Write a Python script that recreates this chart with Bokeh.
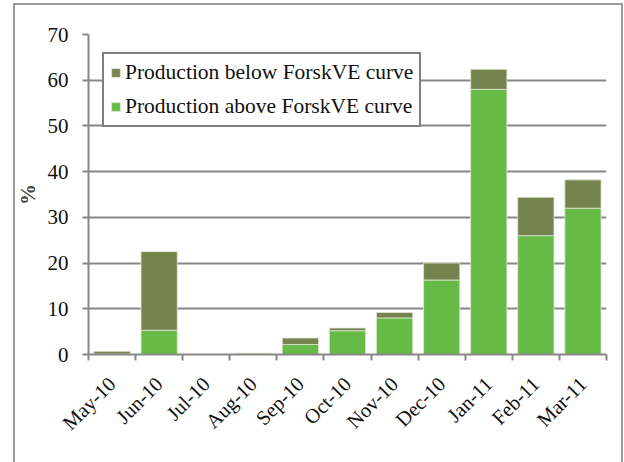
import numpy as np
from bokeh.plotting import figure
from bokeh.models import (Range1d, FixedTicker, Legend, LegendItem,
                          ColumnDataSource, InlineStyleSheet)
from bokeh.embed import file_html
from bokeh.resources import INLINE

months = ["May-10", "Jun-10", "Jul-10", "Aug-10", "Sep-10", "Oct-10",
          "Nov-10", "Dec-10", "Jan-11", "Feb-11", "Mar-11"]
above = [0.1, 5.3, 0.0, 0.2, 2.2, 5.2, 8.0, 16.3, 58.0, 26.0, 32.0]
below = [0.6, 17.2, 0.0, 0.1, 1.4, 0.6, 1.2, 3.7, 4.4, 8.4, 6.2]
y_ticks = [0, 10, 20, 30, 40, 50, 60, 70]

FONT = "Liberation Serif"
DARK = "#77834F"
LIGHT = "#66BB46"
GRID = "#878787"

pos = np.arange(len(months)) + 0.5
src = ColumnDataSource(dict(x=pos, above=above, below=below))

p = figure(width=624, height=462, output_backend="svg", toolbar_location=None,
           x_range=Range1d(0, len(months)), y_range=Range1d(0, 70),
           min_border_left=88, min_border_right=18, min_border_top=34,
           min_border_bottom=108)
p.outline_line_color = None
p.background_fill_color = "white"
p.border_fill_color = "white"

rs = p.vbar_stack(["above", "below"], x="x", width=0.77, source=src,
                  color=[LIGHT, DARK], line_color="#dfe9d6", line_width=0.8)

# x axis: labels at category centres, tick marks at boundaries
xa = p.xaxis[0]
xa.ticker = FixedTicker(ticks=list(pos), minor_ticks=list(range(len(months) + 1)))
xa.major_label_overrides = {float(v): m for v, m in zip(pos, months)}
xa.major_label_orientation = np.pi / 4
xa.major_tick_out = 0
xa.major_tick_in = 0
xa.minor_tick_out = 6
xa.minor_tick_in = 0
xa.minor_tick_line_color = GRID
xa.minor_tick_line_width = 2
xa.axis_line_color = GRID
xa.axis_line_width = 2
xa.major_label_text_font = FONT
xa.major_label_text_font_size = "20.5px"
xa.major_label_text_color = "#111111"
xa.major_label_standoff = 20

ya = p.yaxis[0]
ya.ticker = FixedTicker(ticks=y_ticks)
ya.major_tick_out = 6
ya.major_tick_in = 0
ya.minor_tick_line_color = None
ya.major_tick_line_color = GRID
ya.major_tick_line_width = 2
ya.axis_line_color = GRID
ya.axis_line_width = 2
ya.major_label_text_font = FONT
ya.major_label_text_font_size = "21px"
ya.major_label_text_color = "#111111"
ya.major_label_standoff = 14
ya.axis_label = "%"
ya.axis_label_text_font = FONT
ya.axis_label_text_font_size = "21px"
ya.axis_label_text_font_style = "bold"
ya.axis_label_standoff = 5

p.xgrid.grid_line_color = None
p.ygrid.grid_line_color = GRID
p.ygrid.grid_line_width = 2

legend = Legend(items=[LegendItem(label="Production below ForskVE curve", renderers=[rs[1]]),
                       LegendItem(label="Production above ForskVE curve", renderers=[rs[0]])],
                location=(14, 227), orientation="vertical")
legend.label_text_font = FONT
legend.label_text_font_size = "21.5px"
legend.label_text_color = "#111111"
legend.border_line_color = "#000000"
legend.border_line_width = 2
legend.glyph_width = 11
legend.glyph_height = 11
legend.label_standoff = 4
legend.label_height = 21
legend.spacing = 9
legend.padding = 6
legend.margin = 0
legend.background_fill_alpha = 1
p.add_layout(legend, "center")

p.stylesheets = [InlineStyleSheet(css="""
:host { position: relative; }
:host::after { content: ""; position: absolute; left: 13px; top: 3px;
  width: 610px; height: 480px; border: 2px solid #9a9a9a;
  pointer-events: none; box-sizing: border-box; }
""")]

open("out.html", "w").write(file_html(p, INLINE))
